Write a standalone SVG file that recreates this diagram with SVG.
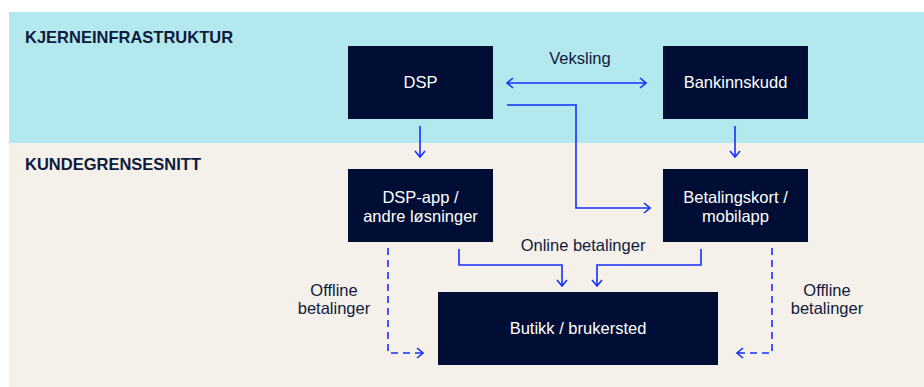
<svg xmlns="http://www.w3.org/2000/svg" width="924" height="387" viewBox="0 0 924 387">
<defs>
<marker id="ah" viewBox="0 0 8 12" refX="7" refY="6" markerWidth="8" markerHeight="12" markerUnits="userSpaceOnUse" orient="auto-start-reverse">
<path d="M1,1 L7,6 L1,11" fill="none" stroke="#1430FF" stroke-width="1.6"/>
</marker>
<style>
.box{fill:#000E35}
.bt{font-family:"Liberation Sans",Arial,sans-serif;font-size:16.5px;fill:#FFFFFF;text-anchor:middle}
.lbl{font-family:"Liberation Sans",Arial,sans-serif;font-size:16.5px;fill:#0F1B3D;text-anchor:middle}
.hdr{font-family:"Liberation Sans",Arial,sans-serif;font-size:16.5px;font-weight:bold;fill:#0F1B3D}
.c{fill:none;stroke:#1430FF;stroke-width:1.6}
.d{stroke-dasharray:7,5}
</style>
</defs>
<rect x="0" y="0" width="924" height="387" fill="#FFFFFF"/>
<rect x="9" y="12" width="915" height="131" fill="#B3E9EE"/>
<rect x="9" y="143" width="915" height="244" fill="#F5F0EA"/>
<text class="hdr" x="25" y="43">KJERNEINFRASTRUKTUR</text>
<text class="hdr" x="25" y="170">KUNDEGRENSESNITT</text>

<g id="connectors">
<path class="c" d="M507,83 L646,83" marker-start="url(#ah)" marker-end="url(#ah)"/>
<path class="c" d="M507,105 L576,105 L576,208 L650,208" marker-end="url(#ah)"/>
<path class="c" d="M420,126 L420,157" marker-end="url(#ah)"/>
<path class="c" d="M735,126 L735,157" marker-end="url(#ah)"/>
<path class="c" d="M459,249 L459,265 L562,265 L562,286" marker-end="url(#ah)"/>
<path class="c" d="M701,249 L701,265 L597,265 L597,286" marker-end="url(#ah)"/>
<path class="c d" d="M388,248 L388,353 L423,353" marker-end="url(#ah)"/>
<path class="c d" d="M772,248 L772,353 L737,353" marker-end="url(#ah)"/>
<text class="lbl" x="580" y="64">Veksling</text>
<text class="lbl" x="583" y="251">Online betalinger</text>
<text class="lbl" x="334" y="296">Offline</text>
<text class="lbl" x="334" y="314">betalinger</text>
<text class="lbl" x="827" y="296">Offline</text>
<text class="lbl" x="827" y="314">betalinger</text>
</g>

<g id="dsp">
<rect class="box" x="348" y="46" width="145" height="73"/>
<text class="bt" x="420.5" y="88">DSP</text>
</g>
<g id="bankinnskudd">
<rect class="box" x="663" y="46" width="145" height="73"/>
<text class="bt" x="735.5" y="88">Bankinnskudd</text>
</g>
<g id="dsp-app">
<rect class="box" x="348" y="169" width="145" height="73"/>
<text class="bt" x="420.5" y="203">DSP-app /</text>
<text class="bt" x="420.5" y="222">andre løsninger</text>
</g>
<g id="betalingskort">
<rect class="box" x="663" y="169" width="145" height="73"/>
<text class="bt" x="735.5" y="203">Betalingskort /</text>
<text class="bt" x="735.5" y="222">mobilapp</text>
</g>
<g id="butikk">
<rect class="box" x="438" y="292" width="280" height="73"/>
<text class="bt" x="578" y="334">Butikk / brukersted</text>
</g>
</svg>
